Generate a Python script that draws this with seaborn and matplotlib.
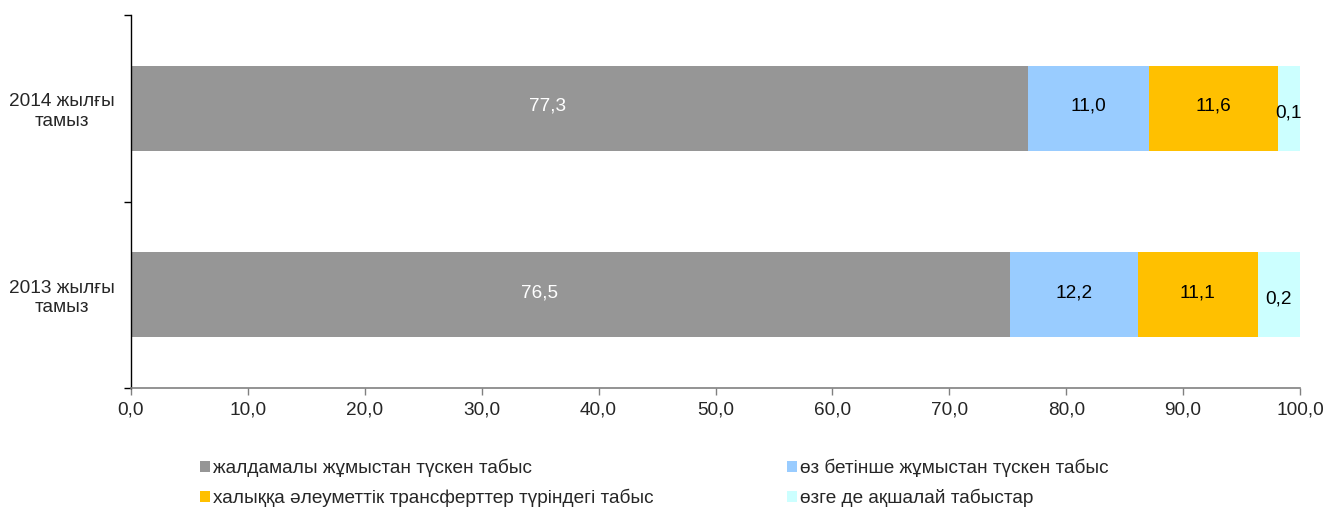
import numpy as np
import pandas as pd
import matplotlib
matplotlib.use("Agg")
import matplotlib.pyplot as plt
import seaborn as sns
from matplotlib.patches import Patch
from matplotlib.ticker import FixedLocator, FuncFormatter

# ── Data (segment widths, labels as printed) ────────────────────────────────
categories = ["2014 жылғы\nтамыз", "2013 жылғы\nтамыз"]
series_names = [
    "жалдамалы жұмыстан түскен табыс",
    "өз бетінше жұмыстан түскен табыс",
    "халыққа әлеуметтік трансферттер түріндегі табыс",
    "өзге де ақшалай табыстар",
]
hired = [76.7, 75.2]
self_emp = [10.4, 10.9]
transfers = [11.0, 10.3]
other = [1.9, 3.6]

hired_lbl = ["77,3", "76,5"]
self_emp_lbl = ["11,0", "12,2"]
transfers_lbl = ["11,6", "11,1"]
other_lbl = ["0,1", "0,2"]

x_ticks = [0, 10, 20, 30, 40, 50, 60, 70, 80, 90, 100]

colors = ["#969696", "#99ccff", "#ffc000", "#ccffff"]

# ── Style ───────────────────────────────────────────────────────────────────
sns.set_style("white")
plt.rcParams["font.family"] = ["Liberation Sans", "DejaVu Sans"]
FS = 13.7
plt.rcParams["font.size"] = FS

W, H = 1325, 508
fig = plt.figure(figsize=(W / 100, H / 100), dpi=100)
ax = fig.add_axes([131 / W, 1 - 388 / H, (1300 - 131) / W, (388 - 15) / H])

values = np.array([hired, self_emp, transfers, other])
labels = [hired_lbl, self_emp_lbl, transfers_lbl, other_lbl]
cum = np.cumsum(values, axis=0)

# stacked bars: draw cumulative totals from the largest down
for i in reversed(range(len(values))):
    df = pd.DataFrame({"period": categories, "total": cum[i]})
    sns.barplot(data=df, x="total", y="period", orient="h", color=colors[i],
                saturation=1, width=0.456, ax=ax, linewidth=0)

# value labels
for i in range(len(values)):
    for j in range(len(categories)):
        left = cum[i][j] - values[i][j]
        if i == 0:
            xpos = left + values[i][j] * 0.465
        else:
            xpos = left + values[i][j] / 2
        dy = 0.025 if i == 3 else -0.01
        ax.text(xpos, j + dy, labels[i][j], ha="center", va="center",
                color="white" if i == 0 else "black", fontsize=FS)

# ── Axes ────────────────────────────────────────────────────────────────────
ax.set_xlim(0, 100)
ax.set_ylim(1.5, -0.5)
ax.xaxis.set_major_locator(FixedLocator(x_ticks))
ax.xaxis.set_major_formatter(FuncFormatter(lambda v, p: f"{v:.1f}".replace(".", ",")))
ax.set_xlabel("")
ax.set_ylabel("")

ax.yaxis.set_minor_locator(FixedLocator([-0.5, 0.5, 1.5]))
ax.tick_params(axis="y", which="major", length=0, pad=11.5)
ax.tick_params(axis="y", which="minor", length=5, width=1, color="black", left=True)
ax.tick_params(axis="x", which="major", length=5, width=1, color="#808080",
               bottom=True, pad=5)
for t in ax.get_yticklabels():
    t.set_multialignment("center")
    t.set_ha("right")

for s in ["top", "right"]:
    ax.spines[s].set_visible(False)
ax.spines["left"].set_color("black")
ax.spines["left"].set_linewidth(1)
ax.spines["bottom"].set_color("#808080")
ax.spines["bottom"].set_linewidth(1.2)

# ── Legend ──────────────────────────────────────────────────────────────────
handles = [Patch(facecolor=c, edgecolor="none") for c in colors]
order = [0, 2, 1, 3]
fig.legend([handles[k] for k in order], [series_names[k] for k in order],
           loc="upper left", bbox_to_anchor=(200 / W, 1 - 459 / H), ncol=2,
           frameon=False, borderpad=0, borderaxespad=0, handlelength=0.5,
           handleheight=0.5, handletextpad=0.2, columnspacing=7.0,
           labelspacing=0.62, fontsize=FS)

fig.savefig("out.png", dpi=100)
